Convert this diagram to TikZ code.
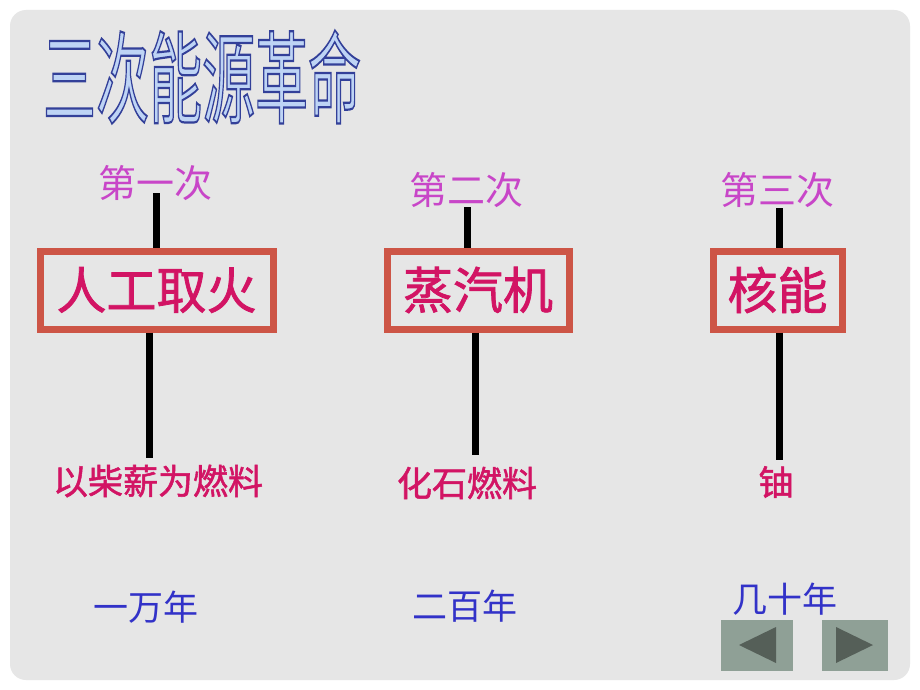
\documentclass[tikz,border=0pt]{standalone}
\usepackage{fontspec}
\setmainfont{Noto Sans CJK SC}
\newfontfamily\cjkb[FakeBold=1.5]{Noto Sans CJK SC}
\newfontfamily\cjk{Noto Sans CJK SC}
\definecolor{bggray}{RGB}{230,230,230}
\definecolor{lblmag}{RGB}{200,70,200}
\definecolor{crim}{RGB}{210,20,100}
\definecolor{boxred}{RGB}{205,85,70}
\definecolor{yrblue}{RGB}{50,50,200}
\definecolor{btnfill}{RGB}{143,160,150}
\definecolor{btntri}{RGB}{85,95,88}
\definecolor{ttlfill}{RGB}{190,212,245}
\newcommand{\outlinedtext}[1]{\special{pdf:literal direct 2 Tr 2.2 w 0.2 0.25 0.6 RG}#1\special{pdf:literal direct 0 Tr}}
\tikzset{
  toplbl/.style={text=lblmag, font=\cjk\fontsize{38}{40}\selectfont, inner sep=0pt},
  revbox/.style={draw=boxred, line width=7pt, text=crim, font=\cjkb\fontsize{50}{52}\selectfont, minimum height=78pt, inner sep=0pt},
  fuellbl/.style={text=crim, font=\cjkb\fontsize{35}{37}\selectfont, inner sep=0pt},
  yearlbl/.style={text=yrblue, font=\cjk\fontsize{35}{37}\selectfont, inner sep=0pt},
  conn/.style={line width=7pt, black},
  btn/.style={fill=btnfill, draw=none},
  tri/.style={fill=btntri, draw=none},
  ttl/.style={font=\cjk\fontsize{100}{100}\selectfont, xscale=0.53, inner sep=0pt, anchor=west, text=ttlfill},
}
\begin{document}
\begin{tikzpicture}[x=1pt,y=-1pt]
\useasboundingbox (0,0) rectangle (920,690);
\fill[white] (0,0) rectangle (920,690);
\fill[bggray, rounded corners=16pt] (10,10) rectangle (910,680);
% title
\node[ttl] (title) at (43,77) {\outlinedtext{三次能源革命}};
% column 1
\node[toplbl] (t1) at (155,183) {第一次};
\node[revbox, minimum width=233pt] (b1) at (156.5,290) {人工取火};
\node[fuellbl] (f1) at (158,481) {以柴薪为燃料};
\node[yearlbl] (y1) at (146,607) {一万年};
\coordinate (c1a) at (156,193);
\coordinate (c1b) at (149,458);
\draw[conn] (c1a) -- (c1a |- b1.north);
\draw[conn] (c1b |- b1.south) -- (c1b);
% column 2
\node[toplbl] (t2) at (466,190) {第二次};
\node[revbox, minimum width=182pt] (b2) at (478,290) {蒸汽机};
\node[fuellbl] (f2) at (467,483) {化石燃料};
\node[yearlbl] (y2) at (465,606) {二百年};
\coordinate (c2a) at (467,207);
\coordinate (c2b) at (475,455);
\draw[conn] (c2a) -- (c2a |- b2.north);
\draw[conn] (c2b |- b2.south) -- (c2b);
% column 3
\node[toplbl] (t3) at (777,190) {第三次};
\node[revbox, minimum width=129pt] (b3) at (777.5,290) {核能};
\node[fuellbl] (f3) at (776,482) {铀};
\node[yearlbl] (y3) at (785,599) {几十年};
\coordinate (c3a) at (779,208);
\coordinate (c3b) at (779,460);
\draw[conn] (c3a) -- (c3a |- b3.north);
\draw[conn] (c3b |- b3.south) -- (c3b);
% buttons
\fill[btn] (721,620) rectangle (793,671);
\fill[tri] (739,645) -- (776,627) -- (776,663) -- cycle;
\fill[btn] (822,620) rectangle (888,671);
\fill[tri] (836,627) -- (873,645) -- (836,663) -- cycle;
\end{tikzpicture}
\end{document}
